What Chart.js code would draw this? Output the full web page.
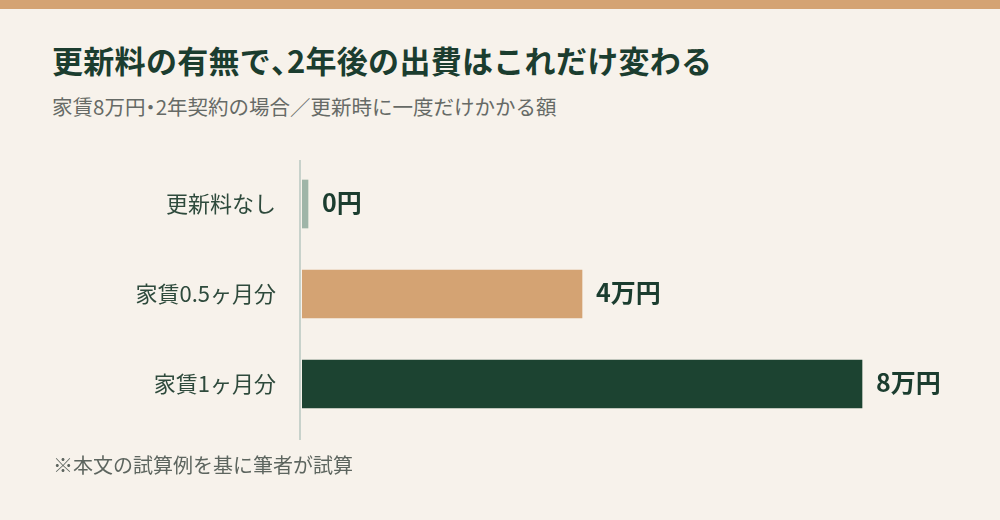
<!DOCTYPE html>
<html lang="ja">
<head>
<meta charset="utf-8">
<script src="https://cdn.jsdelivr.net/npm/chart.js@4.4.0/dist/chart.umd.min.js"></script>
<style>
  html, body { margin: 0; padding: 0; }
  body { width: 1000px; height: 520px; background: #f7f2eb; position: relative; overflow: hidden;
         font-family: "Noto Sans CJK JP", "Noto Sans", sans-serif; }
  .band { position: absolute; left: 0; top: 0; width: 1000px; height: 9px; background: #d4a373; }
  .title { position: absolute; left: 52px; top: 45px; font-size: 31px; line-height: 30px; font-weight: 700; color: #1b3d2f; white-space: nowrap; letter-spacing: 0.3px; }
  .subtitle { position: absolute; left: 52px; top: 96px; font-size: 20.5px; line-height: 20px; color: #666a66; white-space: nowrap; }
  .note { position: absolute; left: 53px; top: 455px; font-size: 20px; line-height: 20px; color: #5d655f; white-space: nowrap; }
  .half { font-feature-settings: "halt"; }
  #wrap { position: absolute; left: 0; top: 0; width: 1000px; height: 520px; }
</style>
</head>
<body>
<div class="band"></div>
<div class="title">更新料の有無で<span class="half">、</span>2年後の出費はこれだけ変わる</div>
<div class="subtitle">家賃8万円<span class="half">・</span>2年契約の場合／更新時に一度だけかかる額</div>
<div id="wrap"><canvas id="c" width="1000" height="520"></canvas></div>
<div class="note">※本文の試算例を基に筆者が試算</div>
<script>
const categories = ["更新料なし", "家賃0.5ヶ月分", "家賃1ヶ月分"];
const values = [0, 4, 8];           // 万円
const valueLabels = ["0円", "4万円", "8万円"];
const barColors = ["#9fb5a8", "#d4a373", "#1c4331"];
const xMax = 9;

const axisLinePlugin = {
  id: 'axisLine',
  beforeDatasetsDraw(chart) {
    const { ctx, chartArea } = chart;
    ctx.save();
    ctx.strokeStyle = '#c8d2cb';
    ctx.lineWidth = 2;
    ctx.beginPath();
    ctx.moveTo(chartArea.left - 2, chartArea.top + 1);
    ctx.lineTo(chartArea.left - 2, chartArea.bottom + 11);
    ctx.stroke();
    ctx.restore();
  }
};

const valueLabelPlugin = {
  id: 'valueLabels',
  afterDatasetsDraw(chart) {
    const { ctx } = chart;
    const meta = chart.getDatasetMeta(0);
    ctx.save();
    ctx.font = 'bold 25px "Noto Sans CJK JP", "Noto Sans", sans-serif';
    ctx.fillStyle = '#1b3d2f';
    ctx.textAlign = 'left';
    ctx.textBaseline = 'middle';
    meta.data.forEach((bar, i) => {
      ctx.fillText(valueLabels[i], bar.x + 14, bar.y - 2);
    });
    ctx.restore();
  }
};

new Chart(document.getElementById('c'), {
  type: 'bar',
  data: {
    labels: categories,
    datasets: [{
      data: values,
      backgroundColor: barColors,
      borderWidth: 0,
      barThickness: 48,
      minBarLength: 6
    }]
  },
  options: {
    indexAxis: 'y',
    responsive: false,
    animation: false,
    devicePixelRatio: 1,
    layout: { padding: { top: 159, bottom: 91, left: 0, right: 68 } },
    plugins: { legend: { display: false }, tooltip: { enabled: false }, title: { display: false } },
    scales: {
      x: {
        display: false,
        min: 0,
        max: xMax
      },
      y: {
        afterFit(scale) { scale.width = 302; },
        grid: { display: false, drawTicks: false },
        border: { display: false },
        ticks: {
          padding: 26,
          color: '#2e4a3c',
          font: { family: '"Noto Sans CJK JP", "Noto Sans", sans-serif', size: 22 }
        }
      }
    }
  },
  plugins: [axisLinePlugin, valueLabelPlugin]
});
</script>
</body>
</html>
